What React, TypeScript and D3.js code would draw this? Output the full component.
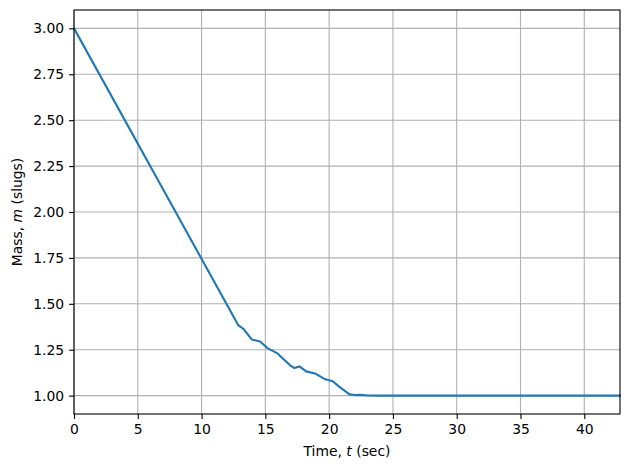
import { useEffect, useRef } from "react";
import * as d3 from "d3";

// Values (time in seconds, mass in slugs).
const times = [
  0, 12.89, 13.28, 13.93, 14.59, 15.16, 15.95, 16.94, 17.28, 17.67, 18.2, 18.9, 19.69, 20.29, 20.73, 21.6,
  22.0, 22.43, 23.0, 24.0, 30.0, 42.8,
];
const masses = [
  3.0, 1.382, 1.364, 1.306, 1.295, 1.259, 1.23, 1.165, 1.15, 1.159, 1.132, 1.121, 1.089, 1.078, 1.052, 1.007,
  1.003, 1.004, 1.001, 1.0, 1.0, 1.0,
];
const xTicks = [0, 5, 10, 15, 20, 25, 30, 35, 40];
const yTicks = [1.0, 1.25, 1.5, 1.75, 2.0, 2.25, 2.5, 2.75, 3.0];

const WIDTH = 630;
const HEIGHT = 470;
const PAD = { left: 74, right: 10, top: 10, bottom: 56 };
const FONT = "DejaVu Sans, sans-serif";
const FS = 13.9;

export default function App() {
  const svgRef = useRef<SVGSVGElement | null>(null);

  useEffect(() => {
    const svgEl = svgRef.current;
    if (!svgEl) return;
    const svg = d3.select(svgEl);
    svg.selectAll("*").remove();

    const x = d3.scaleLinear().domain([0, 42.8]).range([PAD.left, WIDTH - PAD.right]);
    const y = d3.scaleLinear().domain([0.9, 3.1]).range([HEIGHT - PAD.bottom, PAD.top]);
    const points = times.map((t, i) => [t, masses[i]] as [number, number]);

    // Grid.
    const grid = svg.append("g").attr("stroke", "#b0b0b0").attr("stroke-width", 1.1);
    xTicks.forEach((t) => {
      grid.append("line").attr("x1", x(t)).attr("x2", x(t)).attr("y1", PAD.top).attr("y2", HEIGHT - PAD.bottom);
    });
    yTicks.forEach((v) => {
      grid.append("line").attr("x1", PAD.left).attr("x2", WIDTH - PAD.right).attr("y1", y(v)).attr("y2", y(v));
    });

    // Series.
    svg
      .append("path")
      .datum(points)
      .attr("fill", "none")
      .attr("stroke", "#1f77b4")
      .attr("stroke-width", 2.1)
      .attr("stroke-linejoin", "round")
      .attr("stroke-linecap", "square")
      .attr("d", d3.line<[number, number]>().x((d) => x(d[0])).y((d) => y(d[1])));

    // Axes.
    const gx = svg
      .append("g")
      .attr("transform", `translate(0, ${HEIGHT - PAD.bottom})`)
      .call(d3.axisBottom(x).tickValues(xTicks).tickFormat(d3.format("d")).tickSize(4.9).tickPadding(4.9));
    const gy = svg
      .append("g")
      .attr("transform", `translate(${PAD.left}, 0)`)
      .call(d3.axisLeft(y).tickValues(yTicks).tickFormat(d3.format(".2f")).tickSize(4.9).tickPadding(4.9));
    [gx, gy].forEach((g) => {
      g.select(".domain").remove();
      g.selectAll(".tick line").attr("stroke", "#000").attr("stroke-width", 1.1);
      g.selectAll("text").attr("fill", "#000").attr("font-size", FS).attr("font-family", FONT);
    });

    // Frame.
    svg
      .append("rect")
      .attr("x", PAD.left)
      .attr("y", PAD.top)
      .attr("width", WIDTH - PAD.left - PAD.right)
      .attr("height", HEIGHT - PAD.top - PAD.bottom)
      .attr("fill", "none")
      .attr("stroke", "#000")
      .attr("stroke-width", 1.1);

    // Axis titles.
    const xt = svg
      .append("text")
      .attr("x", (PAD.left + WIDTH - PAD.right) / 2)
      .attr("y", 456)
      .attr("text-anchor", "middle")
      .attr("font-size", FS)
      .attr("font-family", FONT);
    xt.append("tspan").text("Time, ");
    xt.append("tspan").attr("font-style", "italic").text("t");
    xt.append("tspan").text(" (sec)");

    const cy = (PAD.top + HEIGHT - PAD.bottom) / 2;
    const yt = svg
      .append("text")
      .attr("transform", `translate(22, ${cy}) rotate(-90)`)
      .attr("text-anchor", "middle")
      .attr("font-size", FS)
      .attr("font-family", FONT);
    yt.append("tspan").text("Mass, ");
    yt.append("tspan").attr("font-style", "italic").text("m");
    yt.append("tspan").text(" (slugs)");
  }, []);

  return (
    <div style={{ position: "absolute", left: 0, top: 0, width: WIDTH, height: HEIGHT, background: "#fff" }}>
      <svg ref={svgRef} width={WIDTH} height={HEIGHT} viewBox={`0 0 ${WIDTH} ${HEIGHT}`} />
    </div>
  );
}
